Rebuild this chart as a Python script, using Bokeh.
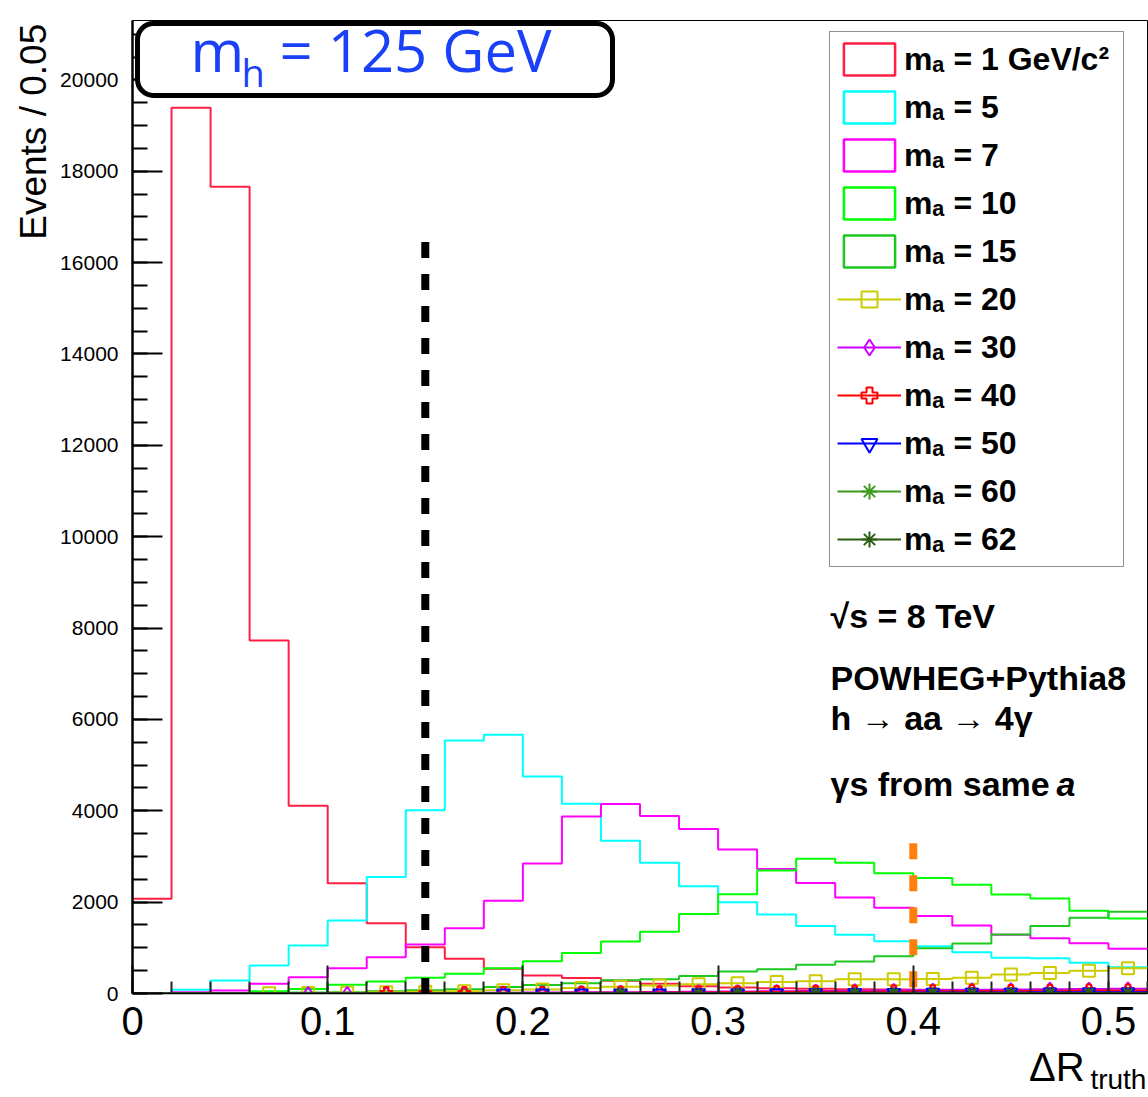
import math
from bokeh.plotting import figure
from bokeh.models import (Range1d, FixedTicker, SingleIntervalTicker, Label, Legend,
                          LegendItem, LinearAxis, BoxAnnotation)
from bokeh.embed import file_html
from bokeh.resources import INLINE

# ---------------- data ----------------
bin_edges = [0.00, 0.02, 0.04, 0.06, 0.08, 0.10, 0.12, 0.14, 0.16, 0.18, 0.20, 0.22, 0.24,
             0.26, 0.28, 0.30, 0.32, 0.34, 0.36, 0.38, 0.40, 0.42, 0.44, 0.46, 0.48, 0.50, 0.52]

m1 = [2075, 19390, 17660, 7730, 4110, 2415, 1540, 1015, 760, 540, 394, 340, 280, 212, 160,
      130, 115, 105, 95, 88, 80, 75, 70, 65, 60, 55]
m5 = [5, 81, 285, 613, 1050, 1600, 2550, 4010, 5540, 5665, 4750, 4155, 3345, 2863, 2350,
      2000, 1730, 1475, 1285, 1146, 1037, 905, 782, 773, 672, 577]
m7 = [0, 30, 66, 212, 357, 555, 796, 1073, 1431, 2030, 2848, 3877, 4147, 3884, 3600,
      3155, 2723, 2417, 2103, 1876, 1694, 1490, 1285, 1212, 1102, 979]
m10 = [0, 3, 7, 50, 100, 190, 265, 343, 431, 555, 708, 885, 1140, 1350, 1740,
       2175, 2694, 2950, 2863, 2635, 2526, 2381, 2169, 2081, 1810, 1640]
m15 = [0, 0, 2, 10, 20, 30, 50, 70, 95, 140, 185, 226, 290, 310, 385,
       482, 532, 628, 700, 818, 990, 1095, 1290, 1475, 1658, 1790]
m20 = [0, 0, 0, 8, 12, 18, 28, 38, 50, 70, 90, 120, 150, 175, 200,
       225, 250, 270, 310, 310, 320, 345, 415, 450, 500, 555]
m30 = [0, 0, 0, 0, 3, 5, 8, 10, 12, 15, 20, 25, 30, 35, 40,
       45, 50, 55, 62, 70, 76, 82, 88, 95, 100, 105]
m40 = [0, 0, 0, 0, 0, 0, 3, 5, 8, 10, 12, 15, 18, 20, 24,
       28, 32, 36, 40, 44, 48, 52, 56, 60, 64, 68]
m50 = [0, 0, 0, 0, 0, 0, 0, 0, 0, 3, 4, 5, 6, 8, 9,
       10, 12, 14, 16, 18, 20, 22, 24, 26, 28, 30]
m60 = [0, 0, 0, 0, 0, 0, 0, 0, 0, 0, 0, 0, 2, 0, 0,
       3, 0, 4, 5, 6, 7, 8, 9, 10, 11, 12]
m62 = [0, 0, 0, 0, 0, 0, 0, 0, 0, 0, 0, 0, 2, 0, 2,
       3, 0, 4, 5, 5, 6, 7, 8, 9, 10, 11]

hist_series = [
    ("mₐ = 1 GeV/c²", m1, "#ff1f45"),
    ("mₐ = 5", m5, "#00ffff"),
    ("mₐ = 7", m7, "#ff00ff"),
    ("mₐ = 10", m10, "#00ff00"),
    ("mₐ = 15", m15, "#1ec81e"),
]
marker_series = [
    ("mₐ = 20", m20, "#cccc00", "square", 12),
    ("mₐ = 30", m30, "#cc00ff", "diamond", 13),
    ("mₐ = 40", m40, "#ff0000", "plus", 12),
    ("mₐ = 50", m50, "#0000ff", "inverted_triangle", 13),
    ("mₐ = 60", m60, "#3d9a1c", "asterisk", 12),
    ("mₐ = 62", m62, "#2b5e12", "asterisk", 12),
]

cut_black_x = 0.15
cut_black_top = 16450
cut_orange_x = 0.40
cut_orange_top = 3290

x_major = [0, 0.1, 0.2, 0.3, 0.4, 0.5]
x_minor = bin_edges

NB = "\u00a0"

# ---------------- figure ----------------
p = figure(width=1148, height=1097, x_range=Range1d(0, 0.52), y_range=Range1d(0, 21300),
           output_backend="svg", toolbar_location=None,
           min_border_left=132, min_border_right=1, min_border_top=20, min_border_bottom=104)
p.xgrid.visible = False
p.ygrid.visible = False
p.outline_line_color = "black"
p.outline_line_width = 1
p.background_fill_color = "white"
p.border_fill_color = "white"

xa = p.xaxis[0]
xa.ticker = FixedTicker(ticks=x_major, minor_ticks=x_minor)
xa.major_label_overrides = {0: "0"}
xa.major_tick_in = 28
xa.major_tick_out = 0
xa.minor_tick_in = 12
xa.minor_tick_out = 0
xa.major_tick_line_width = 2
xa.minor_tick_line_width = 2
xa.major_tick_line_color = "#222222"
xa.minor_tick_line_color = "#222222"
xa.axis_line_width = 1.5
xa.major_label_text_font = "Liberation Sans"
xa.major_label_text_font_size = "40px"
xa.major_label_text_color = "black"
xa.major_label_standoff = 13
xa.axis_label = NB * 75 + "ΔR"
xa.axis_label_text_font = "Liberation Sans"
xa.axis_label_text_font_style = "normal"
xa.axis_label_text_font_size = "40px"
xa.axis_label_text_color = "black"
xa.axis_label_standoff = 7

xa2 = LinearAxis(ticker=FixedTicker(ticks=[]), axis_line_color=None,
                 major_tick_line_color=None, minor_tick_line_color=None,
                 major_tick_out=0, minor_tick_out=0, major_tick_in=0, minor_tick_in=0,
                 major_label_standoff=0, major_label_text_font_size="1px",
                 axis_label=NB * 123 + "truth", axis_label_text_font="Liberation Sans",
                 axis_label_text_font_style="normal", axis_label_text_font_size="28px",
                 axis_label_text_color="black", axis_label_standoff=-28)
p.add_layout(xa2, "below")

ya = p.yaxis[0]
ya.ticker = SingleIntervalTicker(interval=2000, num_minor_ticks=4)
ya.major_tick_in = 30
ya.major_tick_out = 0
ya.minor_tick_in = 15
ya.minor_tick_out = 0
ya.major_tick_line_width = 2
ya.minor_tick_line_width = 2
ya.axis_line_width = 2.5
ya.major_label_text_font = "Liberation Sans"
ya.major_label_text_font_size = "21px"
ya.major_label_text_color = "black"
ya.major_label_standoff = 14
ya.axis_label = NB * 73 + "Events / 0.05"
ya.axis_label_text_font = "Liberation Sans"
ya.axis_label_text_font_style = "normal"
ya.axis_label_text_font_size = "37px"
ya.axis_label_text_color = "black"
ya.axis_label_standoff = 3

# ---------------- histograms ----------------
items = []
lefts = bin_edges[:-1]
rights = bin_edges[1:]
for label, vals, col in hist_series:
    ys = vals + [vals[-1]]
    p.step(x=bin_edges, y=ys, mode="after", line_color=col, line_width=2)
    proxy = p.quad(left=lefts, right=rights, top=vals, bottom=0,
                   fill_alpha=0, line_color=col, line_width=2.5, visible=False)
    items.append(LegendItem(label=label, renderers=[proxy]))

centers = [(bin_edges[i] + bin_edges[i + 1]) / 2 for i in range(len(bin_edges) - 1)]
for label, vals, col, mk, sz in marker_series:
    ys = vals + [vals[-1]]
    lr = p.step(x=bin_edges, y=ys, mode="after", line_color=col, line_width=2)
    cx = [c for c, v in zip(centers, vals) if v > 0]
    cy = [v for v in vals if v > 0]
    sr = p.scatter(x=cx, y=cy, marker=mk, size=sz, line_color=col, line_width=2,
                   fill_color=None)
    items.append(LegendItem(label=label, renderers=[lr, sr]))

# ---------------- cut lines ----------------
p.line(x=[cut_black_x, cut_black_x], y=[cut_black_top, 0], line_color="black",
       line_width=8, line_dash="16 16")
p.line(x=[cut_orange_x, cut_orange_x], y=[cut_orange_top, 0], line_color="#ff7f0a",
       line_width=8, line_dash="16 16")

# ---------------- legend ----------------
legend = Legend(items=items, location=(697, 426), glyph_width=64, glyph_height=40,
                label_height=40, label_width=212, spacing=8, padding=7, label_standoff=3,
                margin=0,
                label_text_font="Liberation Sans", label_text_font_style="bold",
                label_text_font_size="32px", label_text_color="black",
                border_line_color="#222222", border_line_width=1.5,
                background_fill_color="white", background_fill_alpha=1)
p.add_layout(legend)

# ---------------- texts ----------------
def lab(x, y, text, size, style="normal", align="left", baseline="alphabetic",
        font="Liberation Sans", color="black", angle=0, **kw):
    l = Label(x=x, y=y, x_units="screen", y_units="screen", text=text,
              text_font=font, text_font_size=size, text_font_style=style,
              text_align=align, text_baseline=baseline, text_color=color,
              angle=angle, **kw)
    p.add_layout(l)
    return l

# title box
box = BoxAnnotation(left=5, right=480, top=970, bottom=898,
                    left_units="screen", right_units="screen",
                    top_units="screen", bottom_units="screen",
                    fill_color="white", fill_alpha=1, line_color="black", line_alpha=1,
                    line_width=5, border_radius=16)
p.add_layout(box)
blue = "#1a40f8"
lab(58, 944, "m", "58px", font="Open Sans", color=blue)
lab(109, 922, "h", "38px", font="Open Sans", color=blue)
lab(147, 944, "= 125 GeV", "58px", font="Open Sans", color=blue)

# annotations
lab(698, 378, "√s = 8 TeV", "34px", style="bold")
lab(698, 316, "POWHEG+Pythia8", "34px", style="bold")
lab(698, 276, "h → aa → 4γ", "34px", style="bold")
lab(698, 210, "γs from same", "34px", style="bold")
lab(924, 210, "a", "34px", style="bold italic")

open("out.html", "w").write(file_html(p, INLINE))
